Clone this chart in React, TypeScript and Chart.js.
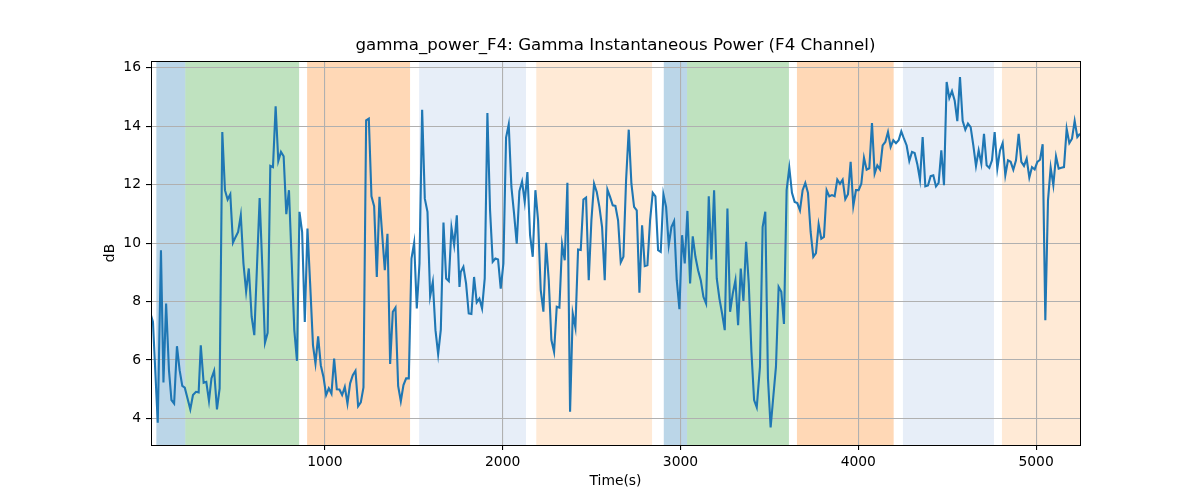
import { useEffect, useRef } from "react";
import { Chart, registerables } from "chart.js";

Chart.register(...registerables);

// sample times (s) and gamma power (dB)
const timeS = [
  22, 33, 60, 78, 92, 107, 123, 137, 152, 168,
  183, 198, 212, 225, 243, 258, 275, 290, 302, 318,
  333, 348, 362, 377, 393, 408, 423, 438, 453, 468,
  483, 498, 512, 527, 542, 557, 572, 588, 603, 618,
  633, 648, 663, 678, 693, 708, 723, 738, 753, 768,
  783, 798, 813, 828, 843, 857, 872, 887, 902, 917,
  933, 947, 962, 977, 992, 1007, 1022, 1037, 1052, 1067,
  1082, 1097, 1112, 1127, 1142, 1157, 1172, 1187, 1202, 1217,
  1232, 1247, 1262, 1277, 1292, 1307, 1322, 1337, 1352, 1367,
  1382, 1397, 1412, 1427, 1442, 1457, 1472, 1487, 1502, 1517,
  1532, 1547, 1562, 1577, 1592, 1607, 1622, 1637, 1652, 1667,
  1682, 1697, 1712, 1727, 1742, 1757,
  1764, 1779, 1794, 1809, 1824, 1839, 1854, 1869, 1884, 1899,
  1914, 1929, 1944, 1959, 1974, 1989, 2004, 2019, 2034, 2049,
  2064, 2079, 2094, 2109, 2124, 2139, 2154, 2169, 2184, 2199,
  2214, 2229, 2244, 2259, 2274, 2289, 2304, 2319, 2334, 2349,
  2364, 2379, 2394, 2409, 2424, 2439, 2454, 2469, 2484, 2499,
  2514, 2529, 2544, 2559, 2574, 2589, 2604, 2619, 2634, 2649,
  2664, 2679, 2694, 2709, 2724, 2739, 2754, 2769, 2784, 2799,
  2814, 2829, 2844, 2859, 2874, 2889, 2904, 2919, 2934, 2949,
  2964, 2979, 2994, 3009, 3024, 3039, 3054, 3069, 3084, 3099,
  3114, 3129, 3144, 3159, 3174, 3189, 3204, 3219, 3234, 3249,
  3264, 3279, 3294, 3309, 3324, 3339, 3354, 3369, 3384, 3399,
  3414, 3429,
  3447, 3462, 3477, 3492, 3507, 3522, 3537, 3552, 3567, 3582,
  3597, 3612, 3627, 3642, 3657, 3672, 3687, 3702, 3717, 3732,
  3747, 3762, 3777, 3792, 3807, 3822, 3837, 3852, 3867, 3882,
  3897, 3912, 3927, 3942, 3957, 3972, 3987, 4002, 4017, 4032,
  4047, 4062, 4077, 4092, 4107, 4122, 4137, 4152, 4167, 4182,
  4197, 4212, 4227, 4242, 4257, 4272, 4287, 4302, 4317, 4332,
  4347, 4362, 4377, 4392, 4407, 4422, 4437, 4452, 4467, 4482,
  4497, 4512, 4527, 4542, 4557, 4572, 4587, 4602, 4617, 4632,
  4647, 4662, 4677, 4692, 4707, 4722, 4737, 4752, 4767, 4782,
  4797, 4812, 4827, 4842, 4857, 4872, 4887, 4902, 4917, 4932,
  4947, 4962, 4977, 4992, 5007, 5022, 5037, 5052, 5067, 5082,
  5097, 5112, 5127, 5142, 5157, 5172, 5187, 5202, 5217, 5232,
  5247,
];

const gammaDb = [
  7.53, 7.3, 3.85, 9.75, 5.23, 7.93, 5.65, 4.63, 4.51, 6.47,
  5.65, 5.11, 5.05, 4.74, 4.31, 4.8, 4.91, 4.89, 6.5, 5.22,
  5.25, 4.6, 5.37, 5.63, 4.31, 5.03, 13.8, 11.81, 11.49, 11.67,
  10.01, 10.21, 10.38, 10.95, 9.3, 8.34, 9.13, 7.48, 6.85, 9.19,
  11.54, 9.19, 6.59, 6.93, 12.64, 12.6, 14.68, 12.81, 13.12, 12.97,
  10.99, 11.81, 9.41, 7.02, 5.97, 11.07, 10.38, 7.3, 10.5, 8.62,
  6.51, 5.88, 6.81, 5.82, 5.42, 4.8, 5.03, 4.85, 6.05, 5.0,
  4.99, 4.8, 5.08, 4.51, 5.2, 5.48, 5.63, 4.42, 4.55, 5.06,
  14.2, 14.26, 11.6, 11.26, 8.84, 11.58, 10.32, 9.07, 10.32, 5.86,
  7.65, 7.79, 5.11, 4.59, 5.14, 5.37, 5.37, 9.47, 10.01, 7.76,
  9.3, 14.56, 11.52, 11.07, 8.18, 8.67, 7.02, 6.2, 7.04, 10.7,
  8.79, 8.7, 10.52, 9.93, 10.95, 8.5,
  9.01, 9.19, 8.62, 7.59, 7.57, 8.84, 7.97, 8.1, 7.76, 8.79,
  14.45, 11.12, 9.36, 9.47, 9.44, 8.44, 9.3, 13.61, 14.06, 11.92,
  11.01, 9.98, 11.78, 12.11, 11.41, 12.43, 10.27, 9.53, 11.81, 10.78,
  8.39, 7.65, 10.01, 8.73, 6.68, 6.28, 7.82, 7.79, 9.96, 9.41,
  12.06, 4.23, 7.59, 7.11, 9.78, 9.76, 11.49, 11.56, 8.73, 10.78,
  12.03, 11.75, 11.24, 10.55, 8.73, 11.83, 11.58, 11.29, 11.27, 10.78,
  9.34, 9.53, 12.15, 13.88, 12.03, 11.24, 11.12, 8.3, 10.61, 9.21,
  9.24, 10.78, 11.72, 11.6, 9.76, 9.7, 11.67, 11.24, 9.93, 10.55,
  10.75, 8.73, 7.74, 10.27, 9.3, 11.1, 8.62, 10.23, 9.53, 9.07,
  8.73, 8.16, 7.93, 11.6, 9.44, 11.81, 8.79, 8.1, 7.59, 7.02,
  11.18, 7.65, 8.27, 8.73, 7.19, 9.13, 8.02, 10.04, 8.62, 6.28,
  4.63, 4.38,
  5.77, 10.55, 11.07, 5.37, 3.69, 4.74, 5.77, 8.5, 8.33, 7.23,
  11.81, 12.58, 11.72, 11.41, 11.37, 11.12, 11.81, 12.06, 11.72, 10.38,
  9.53, 9.66, 10.64, 10.15, 10.21, 11.81, 11.6, 11.64, 11.6, 12.17,
  12.03, 12.17, 11.5, 11.67, 12.78, 11.27, 11.81, 11.81, 12.03, 12.92,
  12.51, 12.56, 14.11, 12.38, 12.66, 12.52, 13.34, 13.46, 13.8, 13.29,
  13.52, 13.42, 13.52, 13.82, 13.57, 13.34, 12.81, 13.12, 13.08, 12.7,
  12.17, 13.63, 11.94, 11.97, 12.29, 12.32, 11.94, 12.06, 13.17, 11.98,
  15.51, 14.96, 15.2, 14.88, 14.17, 15.68, 14.18, 13.88, 14.09, 13.97,
  13.34, 12.64, 13.17, 12.72, 13.74, 12.66, 12.57, 12.83, 13.8, 12.55,
  13.17, 13.42, 12.32, 12.83, 12.78, 12.51, 12.83, 13.74, 12.78, 12.64,
  12.89, 12.24, 12.6, 12.52, 12.78, 12.85, 13.38, 7.36, 11.46, 12.58,
  11.98, 12.97, 12.55, 12.58, 12.6, 13.91, 13.42, 13.57, 14.18, 13.63,
  13.74,
];

// shaded epochs
const bandStart = [52, 215, 900, 1530, 2189, 2906, 3037, 3655, 4251, 4808];
const bandEnd = [215, 855, 1479, 2131, 2840, 3037, 3610, 4199, 4763, 5247];
const bandKind = ["a", "b", "c", "d", "e", "a", "b", "c", "d", "e"];

const xTicks = [1000, 2000, 3000, 4000, 5000];
const yTicks = [4, 6, 8, 10, 12, 14, 16];

const bandColors: Record<string, string> = {
  a: "rgba(31,119,180,0.3)",
  b: "rgba(44,160,44,0.3)",
  c: "rgba(255,127,14,0.3)",
  d: "rgba(174,199,232,0.3)",
  e: "rgba(255,187,120,0.3)",
};

const FONT = "DejaVu Sans";
const SMALL = 13.89; // 10pt at 100 dpi

const bandsPlugin = {
  id: "bands",
  beforeDraw(chart: Chart) {
    const { ctx, chartArea, scales } = chart;
    ctx.save();
    ctx.beginPath();
    ctx.rect(chartArea.left, chartArea.top, chartArea.width, chartArea.height);
    ctx.clip();
    bandStart.forEach((s, i) => {
      const x0 = scales.x.getPixelForValue(s);
      const x1 = scales.x.getPixelForValue(bandEnd[i]);
      ctx.fillStyle = bandColors[bandKind[i]];
      ctx.fillRect(x0, chartArea.top, x1 - x0, chartArea.height);
    });
    ctx.restore();
  },
};

// matplotlib-style box round the axes
const framePlugin = {
  id: "frame",
  afterDraw(chart: Chart) {
    const { ctx, chartArea } = chart;
    ctx.save();
    ctx.strokeStyle = "#000";
    ctx.lineWidth = 1;
    ctx.strokeRect(
      Math.round(chartArea.left) + 0.5,
      Math.round(chartArea.top) + 0.5,
      Math.round(chartArea.width),
      Math.round(chartArea.height)
    );
    ctx.restore();
  },
};

export default function App() {
  const canvasRef = useRef<HTMLCanvasElement>(null);

  useEffect(() => {
    if (!canvasRef.current) return;
    Chart.defaults.font.family = FONT;

    const chart = new Chart(canvasRef.current, {
      type: "line",
      data: {
        datasets: [
          {
            data: timeS.map((t, i) => ({ x: t, y: gammaDb[i] })),
            borderColor: "#1f77b4",
            borderWidth: 2.1,
            pointRadius: 0,
            tension: 0,
            fill: false,
          },
        ],
      },
      options: {
        animation: false,
        responsive: true,
        maintainAspectRatio: false,
        layout: { padding: { left: 0, right: 120, top: 0, bottom: 0 } },
        plugins: {
          legend: { display: false },
          tooltip: { enabled: false },
          title: {
            display: true,
            fullSize: false,
            text: "gamma_power_F4: Gamma Instantaneous Power (F4 Channel)",
            color: "#000",
            font: { family: FONT, size: 16.67, weight: "normal" },
            padding: { top: 36, bottom: 5 },
          },
        },
        scales: {
          x: {
            type: "linear",
            min: 22,
            max: 5247,
            afterBuildTicks: (s: any) => {
              s.ticks = xTicks.map((value) => ({ value }));
            },
            afterFit: (s: any) => {
              s.height = 55;
            },
            border: { display: false },
            grid: { color: "#b0b0b0", lineWidth: 1.1, tickColor: "#000", tickLength: 5 },
            ticks: {
              color: "#000",
              font: { family: FONT, size: SMALL },
              padding: 4,
              maxRotation: 0,
              autoSkip: false,
              callback: (v: any) => String(v),
            },
            title: {
              display: true,
              text: "Time(s)",
              color: "#000",
              font: { family: FONT, size: SMALL },
              padding: { top: 0, bottom: 10.5 },
            },
          },
          y: {
            type: "linear",
            min: 3.09,
            max: 16.23,
            afterBuildTicks: (s: any) => {
              s.ticks = yTicks.map((value) => ({ value }));
            },
            afterFit: (s: any) => {
              s.width = 151;
            },
            border: { display: false },
            grid: { color: "#b0b0b0", lineWidth: 1.1, tickColor: "#000", tickLength: 5 },
            ticks: {
              color: "#000",
              font: { family: FONT, size: SMALL },
              padding: 5,
              callback: (v: any) => String(v),
            },
            title: {
              display: true,
              text: "dB",
              color: "#000",
              font: { family: FONT, size: SMALL },
              padding: { top: 102.5, bottom: 0 },
            },
          },
        },
      },
      plugins: [bandsPlugin, framePlugin],
    });

    return () => {
      chart.destroy();
    };
  }, []);

  return (
    <div style={{ position: "fixed", left: 0, top: 0, width: 1200, height: 500, background: "#fff" }}>
      <canvas ref={canvasRef}></canvas>
    </div>
  );
}
